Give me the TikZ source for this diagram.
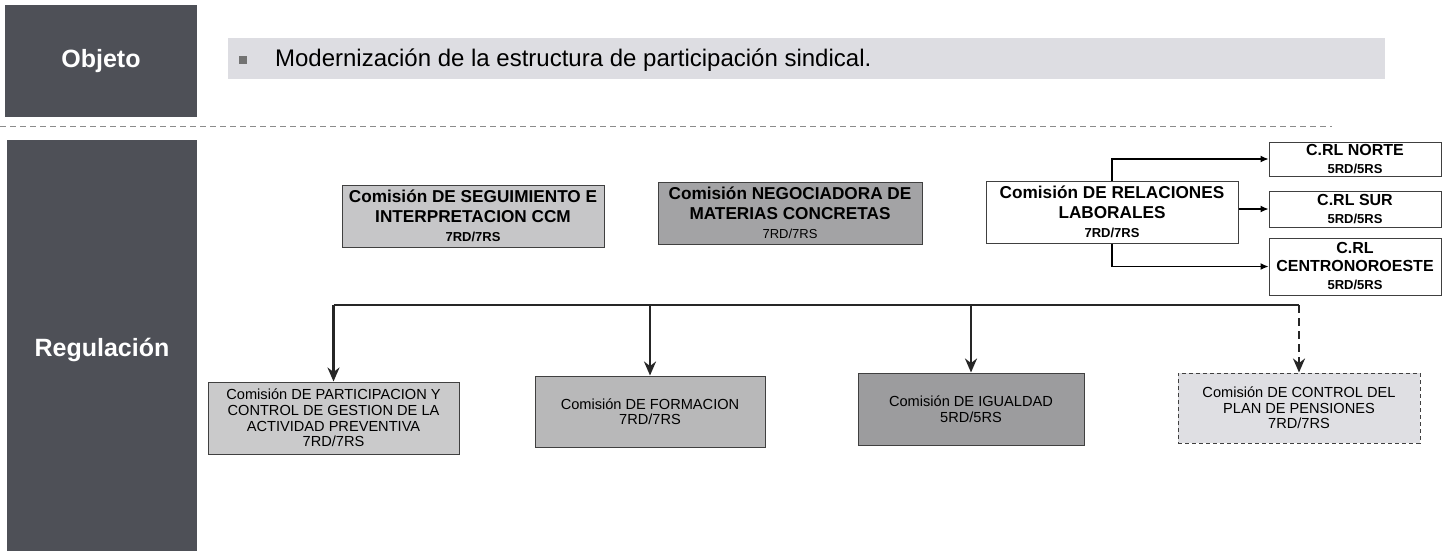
\documentclass[tikz,border=0pt]{standalone}
\usepackage{fontspec}
\setmainfont{Liberation Sans}
\usetikzlibrary{arrows,arrows.meta}
\definecolor{pizarra}{HTML}{4E5057}
\definecolor{banda}{HTML}{DDDDE2}
\definecolor{grisA}{HTML}{C6C6C8}
\definecolor{grisB}{HTML}{A3A3A5}
\definecolor{grisC}{HTML}{CACACB}
\definecolor{grisD}{HTML}{B8B8B9}
\definecolor{grisE}{HTML}{9C9C9E}
\definecolor{grisF}{HTML}{DFDFE3}
\newcommand{\reparto}[1]{{\fontsize{6.5}{7.5}\selectfont #1}}

\begin{document}
\begin{tikzpicture}[x=0.5pt,y=-0.5pt,
  etiqueta/.style={text=white,font=\bfseries\fontsize{12.5}{14}\selectfont},
  caja/.style={draw=black!75,line width=0.5pt,align=center,inner sep=0pt},
  titulo/.style={caja,font=\bfseries\fontsize{8.6}{9.8}\selectfont},
  crl/.style={caja,fill=white,minimum width=86pt,font=\bfseries\fontsize{8}{9}\selectfont},
  subcaja/.style={caja,font=\fontsize{7.3}{7.8}\selectfont},
  bajada/.style={line width=1.3pt,draw=black!85,-{Stealth[length=7pt,width=6pt]}},
  rama/.style={line width=0.6pt,-{Latex[length=4pt,width=3.5pt]}}]
\useasboundingbox (0,0) rectangle (1455,551);
\fill[white] (0,0) rectangle (1455,551);
%-------->bands<--------------
\fill[pizarra] (5,5) rectangle (197,117);
\fill[pizarra] (7,140) rectangle (197,551);
\fill[banda] (228,38) rectangle (1385,79);
\draw[black!45,dash pattern=on 3pt off 2pt] (0,126) -- (1332,126);
\node[etiqueta] (objeto) at (101,61) {Objeto};
\node[etiqueta] (regulacion) at (102,350) {Regulación};
\node[fill=black!55,minimum size=4pt,inner sep=0pt] (vineta) at (243,60) {};
\node[anchor=west,font=\fontsize{12}{14}\selectfont] (objetivo) at (268,60) {Modernización de la estructura de participación sindical.};
%-------->top nodes<--------------
\node[titulo,fill=grisA,minimum width=131pt,minimum height=31pt] (seg) at (473,216) {Comisión DE SEGUIMIENTO E\\INTERPRETACION CCM\\\reparto{7RD/7RS}};
\node[titulo,fill=grisB,minimum width=132pt,minimum height=31pt] (neg) at (790,213) {Comisión NEGOCIADORA DE\\MATERIAS CONCRETAS\\{\mdseries\reparto{7RD/7RS}}};
\node[titulo,fill=white,minimum width=126pt,minimum height=31pt] (rel) at (1112,212) {Comisión DE RELACIONES\\LABORALES\\\reparto{7RD/7RS}};
\node[crl,minimum height=17pt] (norte) at (1355,159) {C.RL NORTE\\\reparto{5RD/5RS}};
\node[crl,minimum height=18pt] (sur) at (1355,209) {C.RL SUR\\\reparto{5RD/5RS}};
\node[crl,minimum height=28.5pt] (centro) at (1355,266.5) {C.RL\\CENTRONOROESTE\\\reparto{5RD/5RS}};
%-------->bottom nodes<--------------
\node[subcaja,fill=grisC,minimum width=125.5pt,minimum height=36pt] (part) at (333.5,418) {Comisión DE PARTICIPACION Y\\CONTROL DE GESTION DE LA\\ACTIVIDAD PREVENTIVA\\7RD/7RS};
\node[subcaja,fill=grisD,minimum width=115pt,minimum height=35.5pt] (form) at (650,411.5) {Comisión DE FORMACION\\7RD/7RS};
\node[subcaja,fill=grisE,minimum width=113pt,minimum height=36pt] (igu) at (971,409) {Comisión DE IGUALDAD\\5RD/5RS};
\node[subcaja,fill=grisF,dash pattern=on 2pt off 1.5pt,minimum width=121pt,minimum height=35pt] (pen) at (1299,408) {Comisión DE CONTROL DEL\\PLAN DE PENSIONES\\7RD/7RS};
%-------->arrows<--------------
\draw[rama] (rel.north) |- (norte.west);
\draw[rama] (rel.east |- sur.west) -- (sur.west);
\draw[rama] (rel.south) |- (centro.west);
\coordinate (bus) at (0,305);
\draw[line width=1.3pt,black!85] (part.north |- bus) -- (pen.north |- bus);
\draw[bajada] (part.north |- bus) -- (part.north);
\draw[bajada] (form.north |- bus) -- (form.north);
\draw[bajada] (igu.north |- bus) -- (igu.north);
\draw[bajada,dash pattern=on 4pt off 2.5pt] (pen.north |- bus) -- (pen.north);
\end{tikzpicture}
\end{document}
